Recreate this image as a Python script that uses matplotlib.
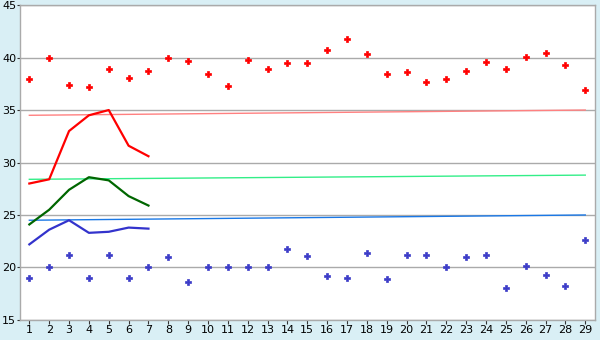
import matplotlib
matplotlib.use("Agg")
import matplotlib.pyplot as plt

# 데이터 ---------------------------------------------
days = list(range(1, 30))

max_pts = [38.0, 40.0, 37.4, 37.2, 38.9, 38.1, 38.7, 40.0, 39.7, 38.4,
           37.3, 39.8, 38.9, 39.5, 39.5, 40.7, 41.8, 40.3, 38.4, 38.6,
           37.7, 38.0, 38.7, 39.6, 38.9, 40.1, 40.4, 39.3, 36.9]
min_pts = [19.0, 20.0, 21.2, 19.0, 21.2, 19.0, 20.0, 21.0, 18.6, 20.0,
           20.0, 20.0, 20.0, 21.8, 21.1, 19.2, 19.0, 21.4, 18.9, 21.2,
           21.2, 20.0, 21.0, 21.2, 18.0, 20.1, 19.3, 18.2, 22.6]

line_days = [1, 2, 3, 4, 5, 6, 7]
max_line = [28.0, 28.4, 33.0, 34.5, 35.0, 31.6, 30.6]
avg_line = [24.1, 25.5, 27.4, 28.6, 28.3, 26.8, 25.9]
min_line = [22.2, 23.6, 24.5, 23.3, 23.4, 23.8, 23.7]

trend_days = [1, 29]
trend_max = [34.5, 35.0]
trend_avg = [28.4, 28.8]
trend_min = [24.5, 25.0]

y_ticks = [15, 20, 25, 30, 35, 40, 45]

# 그리기 ---------------------------------------------
bg = "#d9eff5"
grid_c = "#aaaaaa"

fig = plt.figure(figsize=(6, 3.4), dpi=100, facecolor=bg)
ax = fig.add_axes([0.034, 0.059, 0.958, 0.926])
ax.set_facecolor("white")

for y in y_ticks:
    ax.axhline(y, color=grid_c, lw=1.0, zorder=1)

ax.plot(trend_days, trend_max, color="#ff8080", lw=1.0, zorder=2)
ax.plot(trend_days, trend_avg, color="#33ee88", lw=1.0, zorder=2)
ax.plot(trend_days, trend_min, color="#1a78e6", lw=1.0, zorder=2)

ax.plot(line_days, max_line, color="#ff0000", lw=1.6, zorder=3)
ax.plot(line_days, avg_line, color="#006600", lw=1.6, zorder=3)
ax.plot(line_days, min_line, color="#3333cc", lw=1.6, zorder=3)

ax.plot(days, max_pts, ls="none", marker="P", ms=4.2, color="#ff0000",
        mec="#ff0000", mew=0.5, zorder=4)
ax.plot(days, min_pts, ls="none", marker="P", ms=4.2, color="#3c3cc8",
        mec="#3c3cc8", mew=0.5, zorder=4)

ax.set_xlim(0.55, 29.5)
ax.set_ylim(15, 45)
ax.set_xticks(days)
ax.set_yticks(y_ticks)
ax.tick_params(axis="both", labelsize=8, color="#333333", length=3,
               width=0.8, pad=1)
ax.tick_params(axis="y", length=2)

for side in ["left", "bottom", "right", "top"]:
    ax.spines[side].set_color(grid_c)
    ax.spines[side].set_linewidth(1.0)

fig.savefig("out.png", dpi=100, facecolor=bg)
